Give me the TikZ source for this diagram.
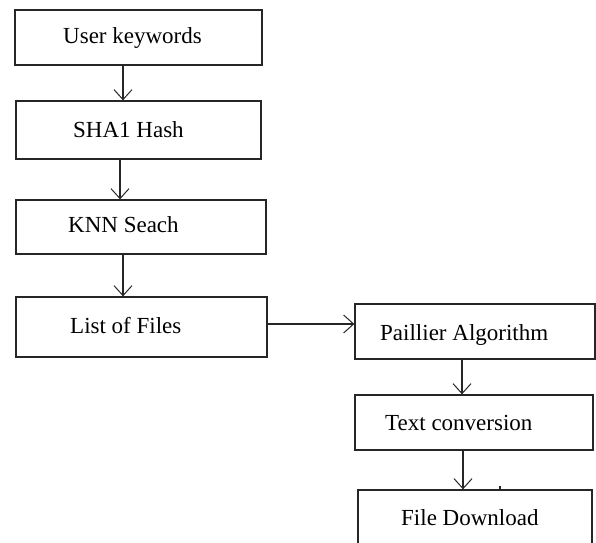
\documentclass[tikz,border=0pt]{standalone}
\usepackage{fontspec}
\setmainfont{Liberation Serif}
\usetikzlibrary{arrows.meta}
\begin{document}
\begin{tikzpicture}[x=1pt,y=-1pt,
  box/.style={draw=black!85,line width=1.3pt,rectangle,inner sep=0pt},
  txt/.style={font=\fontsize{23}{26}\selectfont,inner sep=0pt,anchor=base west},
  arr/.style={draw=black!85,line width=1.3pt,-{Straight Barb[length=10pt,width=18pt,line width=1pt]}}]
\useasboundingbox (0,0) rectangle (596,542);
\clip (0,0) rectangle (596,542);
% boxes
\node[box,minimum width=247pt,minimum height=55pt] (b1) at (138.5,37.5) {};
\node[box,minimum width=245pt,minimum height=58pt] (b2) at (138.5,130) {};
\node[box,minimum width=250pt,minimum height=54pt] (b3) at (141,227) {};
\node[box,minimum width=251pt,minimum height=60pt] (b4) at (141.5,327) {};
\node[box,minimum width=240pt,minimum height=55pt] (b5) at (475,331.5) {};
\node[box,minimum width=238pt,minimum height=55pt] (b6) at (474,422.5) {};
\node[box,minimum width=234pt,minimum height=60pt] (b7) at (475,520) {};
% texts
\node[txt] (t1) at (63,43) {User keywords};
\node[txt] (t2) at (73,137) {SHA1 Hash};
\node[txt] (t3) at (68,232) {KNN Seach};
\node[txt] (t4) at (70,333) {List of Files};
\node[txt] (t5) at (380,340) {Paillier Algorithm};
\node[txt] (t6) at (385,430) {Text conversion};
\node[txt] (t7) at (401,525) {File Download};
% connectors
\draw[arr] (b1.south -| 123,0) -- (b2.north -| 123,0);
\draw[arr] (b2.south -| 120,0) -- (b3.north -| 120,0);
\draw[arr] (b3.south -| 123,0) -- (b4.north -| 123,0);
\draw[arr] (b4.east |- 0,324) -- (b5.west |- 0,324);
\draw[arr] (b5.south -| 462,0) -- (b6.north -| 462,0);
\draw[arr] (b6.south -| 463,0) -- (b7.north -| 463,0);
\coordinate (tick) at (500,486);
\draw[draw=black!85,line width=1.2pt] (tick) -- (tick |- b7.north);
\end{tikzpicture}
\end{document}
